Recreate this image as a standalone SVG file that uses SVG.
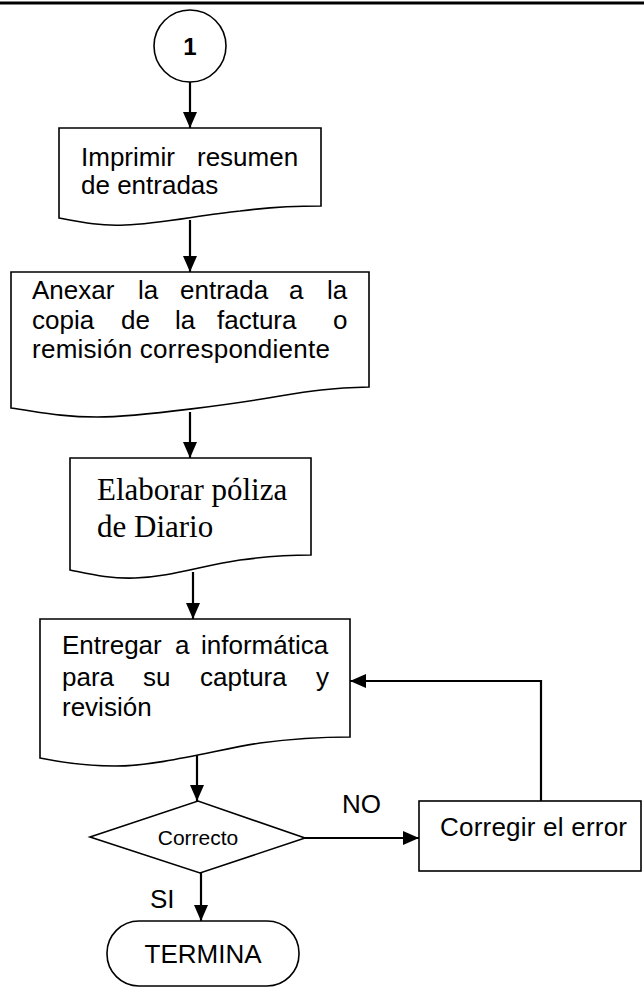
<svg xmlns="http://www.w3.org/2000/svg" width="644" height="992" viewBox="0 0 644 992">
<style>
.sh{fill:#fff;stroke:#000;stroke-width:1.6}
.t{font-family:"Liberation Sans",Arial,sans-serif;font-size:26px;fill:#000}
.tr{font-family:"Liberation Serif","Times New Roman",serif;font-size:31px;fill:#000}
.c{fill:none;stroke:#000;stroke-width:2.2}
</style>
<defs>
<marker id="ah" viewBox="0 0 16 14" refX="16" refY="7" markerWidth="16" markerHeight="14" markerUnits="userSpaceOnUse" orient="auto">
<path d="M0,0 L16,7 L0,14 Z" fill="#000"/>
</marker>
</defs>
<rect width="644" height="992" fill="#fff"/>
<line x1="0" y1="3" x2="644" y2="3" stroke="#000" stroke-width="3"/>

<g id="connectors">
<line class="c" x1="190" y1="82" x2="190" y2="128" marker-end="url(#ah)"/>
<line class="c" x1="190" y1="220" x2="190" y2="272" marker-end="url(#ah)"/>
<line class="c" x1="190" y1="412" x2="190" y2="458" marker-end="url(#ah)"/>
<line class="c" x1="193" y1="572" x2="193" y2="619" marker-end="url(#ah)"/>
<line class="c" x1="197" y1="755" x2="197" y2="801" marker-end="url(#ah)"/>
<line class="c" x1="201" y1="873" x2="201" y2="921" marker-end="url(#ah)"/>
<line class="c" x1="305" y1="838" x2="419" y2="838" marker-end="url(#ah)"/>
<path class="c" d="M541,801 V681 H350" marker-end="url(#ah)"/>
<text class="t" x="342" y="813">NO</text>
<text class="t" x="150" y="908">SI</text>
</g>

<g id="start">
<circle class="sh" cx="190" cy="46" r="36"/>
<text x="190" y="55" text-anchor="middle" style="font-family:'Liberation Sans',Arial,sans-serif;font-size:24px;font-weight:bold">1</text>
</g>

<g id="box1">
<path class="sh" d="M59,128 H321 V206 C290,206 270,207 240,211 C200,215 160,224 125,225 C100,226 85,223 59,218 Z"/>
<text class="t" y="166"><tspan x="81">Imprimir</tspan> <tspan x="197">resumen</tspan></text>
<text class="t" x="81" y="194">de entradas</text>
</g>

<g id="box2">
<path class="sh" d="M11,272 H369 V387 C330,388 310,391 280,396 C240,403 140,417 97,417 C60,417 40,412 11,408 Z"/>
<text class="t" y="299"><tspan x="32">Anexar</tspan> <tspan x="138">la</tspan> <tspan x="180">entrada</tspan> <tspan x="289">a</tspan> <tspan x="327">la</tspan></text>
<text class="t" y="329"><tspan x="32">copia</tspan> <tspan x="121">de</tspan> <tspan x="175">la</tspan> <tspan x="217">factura</tspan> <tspan x="333">o</tspan></text>
<text class="t" x="32" y="358" textLength="298" lengthAdjust="spacing">remisión correspondiente</text>
</g>

<g id="box3">
<path class="sh" d="M70,458 H311 V555 C290,555 270,556 240,560 C200,566 170,577 135,578 C110,579 90,574 70,570 Z"/>
<text class="tr" x="97" y="500">Elaborar póliza</text>
<text class="tr" x="97" y="537">de Diario</text>
</g>

<g id="box4">
<path class="sh" d="M40,619 H350 V737 C320,737 290,739 260,743 C220,749 160,766 115,766 C85,766 60,762 40,758 Z"/>
<text class="t" y="654"><tspan x="62">Entregar</tspan> <tspan x="175">a</tspan> <tspan x="201">informática</tspan></text>
<text class="t" y="686"><tspan x="62">para</tspan> <tspan x="143">su</tspan> <tspan x="200">captura</tspan> <tspan x="316">y</tspan></text>
<text class="t" x="62" y="716">revisión</text>
</g>

<g id="decision">
<polygon class="sh" points="90,837 198,801 305,838 200,873"/>
<text x="198" y="845" text-anchor="middle" style="font-family:'Liberation Sans',Arial,sans-serif;font-size:21px">Correcto</text>
</g>

<g id="box5">
<rect class="sh" x="419" y="801" width="222" height="70"/>
<text class="t" x="440" y="836" textLength="187" lengthAdjust="spacing">Corregir el error</text>
</g>

<g id="end">
<rect class="sh" x="107" y="921" width="192" height="65" rx="32" ry="32"/>
<text class="t" x="203" y="963" text-anchor="middle">TERMINA</text>
</g>
</svg>
